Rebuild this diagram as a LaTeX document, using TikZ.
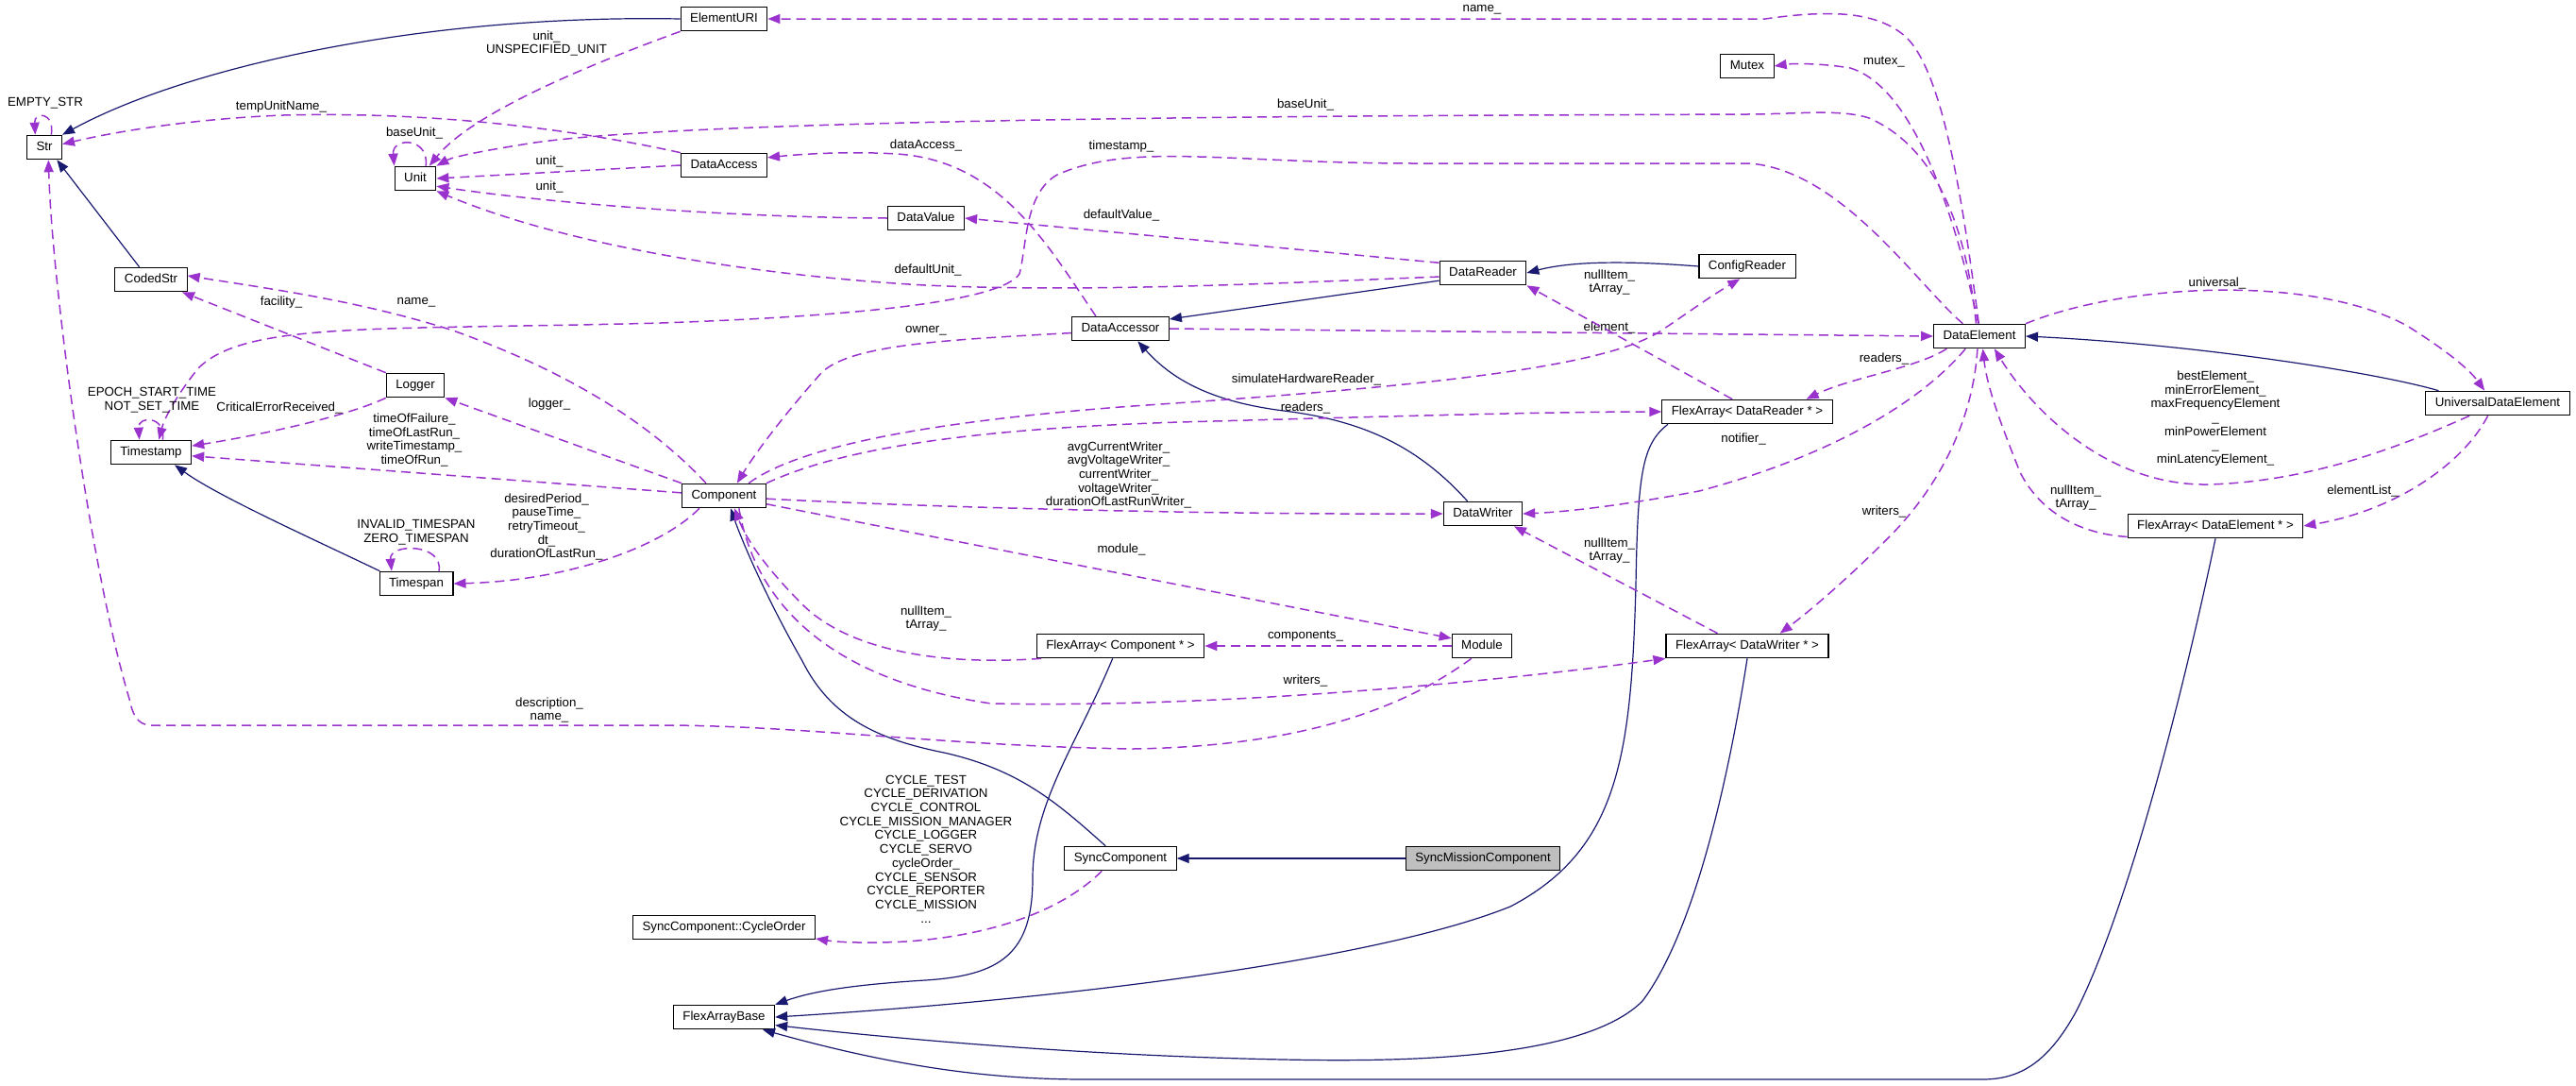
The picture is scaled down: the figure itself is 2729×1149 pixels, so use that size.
\documentclass[tikz,border=0pt]{standalone}
\usepackage{fontspec}
\setmainfont{Liberation Sans}
\usetikzlibrary{arrows.meta}
\definecolor{usecol}{HTML}{9A32CD}
\definecolor{inhcol}{HTML}{191970}
\definecolor{focusgray}{HTML}{BFBFBF}
\newcommand{\dfont}{\fontsize{13.3}{14.7}\selectfont}
\tikzset{
  box/.style={draw=black, fill=white, line width=1.1pt, minimum height=25.5pt, inner xsep=10pt, inner ysep=0pt, text height=9.5pt, text depth=3pt, font=\dfont},
  lbl/.style={font=\dfont, align=center, inner sep=0pt},
  member/.style={draw=usecol, line width=1.5pt, dash pattern=on 10pt off 6pt, -{Triangle[length=13pt,width=10pt]}, usecol},
  isa/.style={draw=inhcol, line width=1.2pt, -{Triangle[length=13pt,width=10pt]}, inhcol},
}
\begin{document}
\begin{tikzpicture}[x=1pt, y=-1pt]
  \useasboundingbox (0,0) rectangle (2729,1149);
  \node[box] (str) at (47,156) {Str};
  \node[box] (codedstr) at (160,296) {CodedStr};
  \node[box] (timestamp) at (160,479) {Timestamp};
  \node[box] (unit) at (440,189) {Unit};
  \node[box] (logger) at (440,408) {Logger};
  \node[box] (timespan) at (441,618) {Timespan};
  \node[box] (elementuri) at (767,20) {ElementURI};
  \node[box] (dataaccess) at (767,175) {DataAccess};
  \node[box] (component) at (767,525) {Component};
  \node[box] (cycleorder) at (767,982) {SyncComponent::CycleOrder};
  \node[box] (flexbase) at (767,1077) {FlexArrayBase};
  \node[box] (datavalue) at (981,231) {DataValue};
  \node[box] (dataaccessor) at (1187,348) {DataAccessor};
  \node[box] (facomp) at (1187,684) {FlexArray< Component * >};
  \node[box] (synccomp) at (1187,909) {SyncComponent};
  \node[box] (datareader) at (1571,289) {DataReader};
  \node[box] (datawriter) at (1571,544) {DataWriter};
  \node[box] (module) at (1570,684) {Module};
  \node[box, fill=focusgray] (syncmission) at (1571,909) {SyncMissionComponent};
  \node[box] (configreader) at (1851,282) {ConfigReader};
  \node[box] (mutex) at (1851,70) {Mutex};
  \node[box] (fareader) at (1851,436) {FlexArray< DataReader * >};
  \node[box] (fawriter) at (1851,684) {FlexArray< DataWriter * >};
  \node[box] (dataelement) at (2097,356) {DataElement};
  \node[box] (faelement) at (2347,557) {FlexArray< DataElement * >};
  \node[box] (universal) at (2646,427) {UniversalDataElement};

  \draw[isa] (elementuri.west) .. controls (450,15) and (200,70) .. (str.north east);
  \draw[isa] (codedstr.133) -- (str.-45);
  \draw[isa] (timespan.161) .. controls (330,570) and (230,525) .. (timestamp.-28);
  \draw[isa] (datareader.190) -- (dataaccessor.11);
  \draw[isa] (configreader.west) .. controls (1710,275) and (1660,278) .. (datareader.east);
  \draw[isa] (datawriter.141) .. controls (1500,470) and (1440,445) .. (1360,435) .. controls (1280,425) and (1240,400) .. (dataaccessor.-36);
  \draw[isa] (universal.168) .. controls (2520,395) and (2330,365) .. (dataelement.east);
  \draw[isa] (syncmission.west) -- (synccomp.east);
  \draw[isa] (synccomp.140) .. controls (1120,850) and (1080,815) .. (1000,797) .. controls (930,783) and (880,760) .. (850,700) .. controls (810,630) and (785,570) .. (component.-62);
  \draw[isa] (facomp.-122) .. controls (1140,790) and (1094,850) .. (1094,930) .. controls (1094,1010) and (1060,1033) .. (980,1038) .. controls (900,1043) and (860,1050) .. (flexbase.north east);
  \draw[isa] (fareader.-171) .. controls (1740,470) and (1735,500) .. (1733,620) .. controls (1728,800) and (1715,900) .. (1600,960) .. controls (1450,1020) and (1100,1060) .. (flexbase.east);
  \draw[isa] (fawriter.south) .. controls (1835,800) and (1800,980) .. (1740,1060) .. controls (1680,1120) and (1500,1125) .. (1360,1122) .. controls (1150,1118) and (950,1100) .. (flexbase.-9);
  \draw[isa] (faelement.south) .. controls (2320,700) and (2260,950) .. (2200,1070) .. controls (2170,1125) and (2140,1143) .. (2100,1143) -- (1150,1143) .. controls (1050,1143) and (950,1130) .. (flexbase.-18);

  \draw[member] (dataelement.93) .. controls (2080,220) and (2060,80) .. (2020,40) .. controls (1990,12) and (1940,10) .. (1870,20) -- (elementuri.east);
  \node[lbl] (lname) at (1570,10) {name\_};
  \draw[member] (dataelement.95) .. controls (2065,200) and (2020,90) .. (1960,72) .. controls (1930,67) and (1900,67) .. (mutex.east);
  \node[lbl] (lmutex) at (1996,66) {mutex\_};
  \draw[member] (dataelement.105) .. controls (2085,260) and (2060,160) .. (1980,125) .. controls (1950,115) and (1900,121) .. (1850,121) -- (1600,122) .. controls (1200,124) and (700,130) .. (560,152) .. controls (510,160) and (480,166) .. (unit.north east);
  \node[lbl] (lbaseunit) at (1383,111) {baseUnit\_};
  \draw[member] (dataelement.143) .. controls (2030,300) and (1950,180) .. (1853,173) -- (1500,173) .. controls (1300,173) and (1200,150) .. (1120,185) .. controls (1085,205) and (1088,260) .. (1080,290) .. controls (1060,320) and (900,335) .. (700,342) .. controls (400,350) and (260,340) .. (210,390) .. controls (190,415) and (175,440) .. (timestamp.58);
  \node[lbl] (ltimestamp) at (1188,155) {timestamp\_};
  \draw[member] (dataaccess.north west) .. controls (600,135) and (450,118) .. (300,122) .. controls (200,126) and (120,140) .. (str.10);
  \node[lbl] (ltempunit) at (298,113) {tempUnitName\_};
  \draw[member] (dataaccess.west) -- (unit.east);
  \node[lbl] (lunita) at (582,171) {unit\_};
  \draw[member] (elementuri.south west) .. controls (620,70) and (500,120) .. (unit.42);
  \node[lbl] (lunitb) at (579,46) {unit\_\\UNSPECIFIED\_UNIT};
  \draw[member] (datavalue.west) .. controls (750,230) and (560,212) .. (unit.-20);
  \node[lbl] (lunitc) at (582,198) {unit\_};
  \draw[member] (datareader.185) .. controls (1350,300) and (1150,310) .. (980,302) .. controls (800,292) and (600,260) .. (unit.south east);
  \node[lbl] (ldefunit) at (983,286) {defaultUnit\_};
  \draw[member] (datareader.167) -- (datavalue.east);
  \node[lbl] (ldefvalue) at (1188,228) {defaultValue\_};
  \draw[member] (dataaccessor.153) .. controls (1110,260) and (1060,170) .. (950,163) .. controls (900,160) and (850,163) .. (dataaccess.10);
  \node[lbl] (ldataaccess) at (981,154) {dataAccess\_};
  \draw[member] (dataaccessor.east) -- (dataelement.west);
  \node[lbl] (lelement) at (1705,347) {element\_};
  \draw[member] (dataaccessor.185) .. controls (1000,360) and (900,365) .. (870,395) .. controls (830,440) and (800,480) .. (component.44);
  \node[lbl] (lowner) at (981,350) {owner\_};
  \draw[member] (component.27) .. controls (850,470) and (1000,445) .. (1200,430) .. controls (1500,410) and (1700,390) .. (1760,350) .. controls (1790,330) and (1810,315) .. (configreader.-120);
  \node[lbl] (lsimhw) at (1384,402) {simulateHardwareReader\_};
  \draw[member] (component.north east) .. controls (880,480) and (1000,455) .. (1250,447) .. controls (1500,440) and (1650,436) .. (fareader.west);
  \node[lbl] (lreadersa) at (1383,432) {readers\_};
  \draw[member] (component.-4) .. controls (1000,538) and (1300,545) .. (datawriter.west);
  \node[lbl] (lwriters) at (1185,503) {avgCurrentWriter\_\\avgVoltageWriter\_\\currentWriter\_\\voltageWriter\_\\durationOfLastRunWriter\_};
  \draw[member] (component.-11) -- (module.166);
  \node[lbl] (lmodule) at (1188,582) {module\_};
  \draw[member] (facomp.-171) .. controls (1000,705) and (900,690) .. (850,640) .. controls (810,600) and (790,570) .. (component.-50);
  \node[lbl] (lnullcomp) at (981,655) {nullItem\_\\tArray\_};
  \draw[member] (module.west) -- (facomp.east);
  \node[lbl] (lcomponents) at (1383,674) {components\_};
  \draw[member] (component.-40) .. controls (800,640) and (880,720) .. (1050,745) .. controls (1300,750) and (1600,720) .. (fawriter.south west);
  \node[lbl] (lwritersb) at (1383,721) {writers\_};
  \draw[member] (module.-130) .. controls (1500,740) and (1400,790) .. (1200,793) .. controls (1000,790) and (850,768) .. (700,768) -- (160,768) .. controls (145,768) and (140,755) .. (137,740) .. controls (95,600) and (55,300) .. (str.-72);
  \node[lbl] (ldescr) at (582,752) {description\_\\name\_};
  \draw[member] (logger.north west) -- (codedstr.-22);
  \node[lbl] (lfacility) at (298,320) {facility\_};
  \draw[member] (component.145) .. controls (700,460) and (620,400) .. (480,350) .. controls (380,318) and (280,305) .. (codedstr.6);
  \node[lbl] (lnamec) at (441,320) {name\_};
  \draw[member] (logger.south west) .. controls (370,440) and (280,460) .. (timestamp.9);
  \node[lbl] (lcritical) at (296,432) {CriticalErrorReceived\_};
  \draw[member] (component.north west) -- (logger.south east);
  \node[lbl] (llogger) at (582,428) {logger\_};
  \draw[member] (component.176) -- (timestamp.-5);
  \node[lbl] (ltimes) at (439,466) {timeOfFailure\_\\timeOfLastRun\_\\writeTimestamp\_\\timeOfRun\_};
  \draw[member] (component.-153) .. controls (700,580) and (600,615) .. (timespan.east);
  \node[lbl] (lperiods) at (579,558) {desiredPeriod\_\\pauseTime\_\\retryTimeout\_\\dt\_\\durationOfLastRun\_};
  \draw[member] (timestamp.47) .. controls (176,440) and (146,440) .. (timestamp.133);
  \node[lbl] (lepoch) at (161,424) {EPOCH\_START\_TIME\\NOT\_SET\_TIME};
  \draw[member] (str.61) .. controls (58,118) and (36,118) .. (str.126);
  \node[lbl] (lempty) at (48,109) {EMPTY\_STR};
  \draw[member] (unit.50) .. controls (455,145) and (415,145) .. (unit.north west);
  \node[lbl] (lbaseloop) at (439,141) {baseUnit\_};
  \draw[member] (timespan.29) .. controls (470,575) and (412,575) .. (timespan.153);
  \node[lbl] (linvalid) at (441,564) {INVALID\_TIMESPAN\\ZERO\_TIMESPAN};
  \draw[member] (fareader.140) -- (datareader.south east);
  \node[lbl] (lnullreader) at (1705,299) {nullItem\_\\tArray\_};
  \draw[member] (dataelement.-159) .. controls (2030,390) and (1960,400) .. (fareader.12);
  \node[lbl] (lreadersb) at (1996,380) {readers\_};
  \draw[member] (dataelement.-138) .. controls (2040,420) and (1950,480) .. (1800,520) .. controls (1720,535) and (1660,542) .. (datawriter.east);
  \node[lbl] (lnotifier) at (1847,465) {notifier\_};
  \draw[member] (dataelement.-99) .. controls (2090,450) and (2050,520) .. (2000,570) .. controls (1960,610) and (1920,645) .. (fawriter.21);
  \node[lbl] (lwritersc) at (1996,542) {writers\_};
  \draw[member] (fawriter.157) -- (datawriter.-22);
  \node[lbl] (lnullwriter) at (1705,583) {nullItem\_\\tArray\_};
  \draw[member] (faelement.-173) .. controls (2200,565) and (2160,540) .. (2140,500) .. controls (2120,450) and (2105,410) .. (dataelement.-75);
  \node[lbl] (lnullelement) at (2199,527) {nullItem\_\\tArray\_};
  \draw[member] (universal.-156) .. controls (2550,470) and (2450,510) .. (2340,513) .. controls (2230,515) and (2150,430) .. (dataelement.-40);
  \node[lbl] (lbest) at (2347,443) {bestElement\_\\minErrorElement\_\\maxFrequencyElement\\\_\\minPowerElement\\\_\\minLatencyElement\_};
  \draw[member] (dataelement.north east) .. controls (2250,300) and (2450,290) .. (2550,345) .. controls (2590,370) and (2615,390) .. (universal.136);
  \node[lbl] (luniversal) at (2349,300) {universal\_};
  \draw[member] (universal.-128) .. controls (2610,490) and (2540,540) .. (faelement.east);
  \node[lbl] (lelementlist) at (2503,520) {elementList\_};
  \draw[member] (synccomp.-146) .. controls (1130,960) and (1060,990) .. (960,997) .. controls (920,999) and (890,998) .. (cycleorder.-7);
  \node[lbl] (lcycle) at (981,899) {CYCLE\_TEST\\CYCLE\_DERIVATION\\CYCLE\_CONTROL\\CYCLE\_MISSION\_MANAGER\\CYCLE\_LOGGER\\CYCLE\_SERVO\\cycleOrder\_\\CYCLE\_SENSOR\\CYCLE\_REPORTER\\CYCLE\_MISSION\\...};
\end{tikzpicture}
\end{document}
